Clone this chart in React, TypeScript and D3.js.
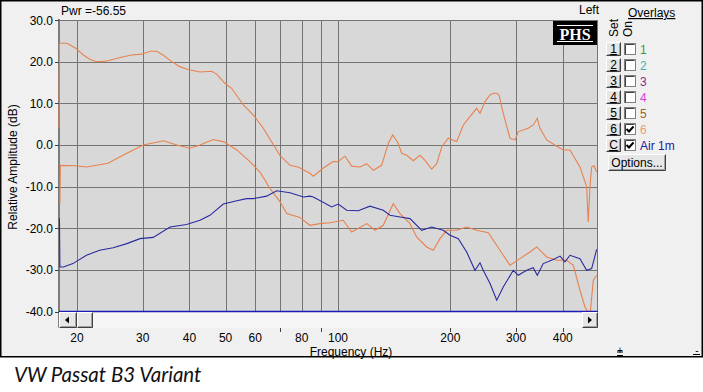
import React from "react";
import * as d3 from "d3";

// ---- axis definitions ----
const yTicks = [30, 20, 10, 0, -10, -20, -30, -40];
const xGrid = [20, 30, 40, 50, 60, 70, 80, 90, 100, 200, 300, 400];
const xLabels = [20, 30, 40, 50, 60, 80, 100, 200, 300, 400];
const xTickMarks = [70, 90, 200, 300, 400];

// ---- orange curve (high start) ----
const curveAFreq = [17.9, 17.95, 18.1, 18.8, 19.8, 20.8, 21.7, 22.4, 23.3, 24.2, 26.1, 28.0, 29.8, 31.4, 32.7, 34.0, 35.9, 37.7, 39.7, 42.7, 45.9, 47.3, 49.8, 51.9, 55.8, 59.3, 63.1, 69.9, 74.4, 78.2, 84.1, 85.9, 91.2, 97.0, 100, 104.4, 108.8, 114.5, 119.4, 124.3, 130.9, 136.4, 140.1, 145.0, 148.1, 152.8, 159.1, 165.8, 171.0, 178.2, 183.8, 189.6, 197.4, 207.9, 216.6, 225.7, 235.2, 240.1, 247.6, 255.4, 260.6, 266.1, 269.9, 277.1, 288.8, 297.9, 304.0, 323.3, 333.4, 341.8, 347.5, 362.2, 385.3, 401.3, 418.2, 444.7, 463.4, 468.0, 473.0, 477.9, 485.0, 492.9];
const curveADb = [4.0, 24.4, 24.4, 24.4, 23.3, 21.6, 20.5, 20.1, 20.0, 20.2, 21.0, 21.6, 21.8, 22.5, 22.5, 21.6, 20.0, 18.8, 18.1, 17.5, 17.7, 17.0, 14.8, 13.6, 9.6, 7.2, 4.0, -2.5, -4.9, -5.3, -6.8, -7.5, -5.6, -4.0, -4.0, -2.7, -5.1, -5.3, -4.5, -6.1, -4.9, 0.4, 2.4, 0.4, -2.0, -2.5, -3.8, -2.5, -3.7, -5.8, -4.5, -0.5, 1.6, 0.8, 4.8, 6.8, 8.8, 7.6, 10.4, 12.0, 12.4, 12.4, 12.0, 7.6, 1.6, 1.2, 3.2, 4.0, 4.8, 6.4, 4.0, 1.2, -0.3, -1.2, -1.2, -5.3, -10.0, -18.5, -10.0, -5.3, -5.0, -6.5];

// ---- orange curve (low start) ----
const curveBFreq = [18.0, 18.05, 19.8, 21.2, 24.2, 27.2, 30.1, 34.1, 37.0, 40.1, 42.7, 46.3, 49.3, 53.6, 58.1, 61.8, 65.8, 69.9, 72.9, 79.1, 84.1, 89.5, 95.2, 103.3, 108.8, 119.4, 125.6, 132.2, 140.6, 146.6, 155.9, 162.4, 172.8, 180.0, 187.6, 195.5, 207.9, 221.1, 235.2, 252.7, 271.5, 288.8, 307.2, 326.8, 340.5, 362.2, 385.3, 409.8, 426.8, 444.7, 458.6, 473.0, 482.8, 492.9];
const curveBDb = [-14.0, -4.9, -5.0, -5.3, -4.4, -2.0, 0.0, 1.0, 0.0, -0.8, 0.0, 1.3, 0.8, -1.2, -4.0, -6.5, -10.5, -13.6, -16.5, -17.4, -19.3, -18.9, -18.7, -18.1, -20.9, -18.9, -20.5, -19.3, -14.1, -16.5, -18.9, -22.1, -24.5, -25.3, -22.5, -20.5, -20.5, -19.7, -20.5, -21.1, -25.3, -28.9, -27.3, -25.7, -24.5, -26.9, -27.7, -27.7, -28.9, -34.9, -38.9, -41.0, -32.5, -31.3];

// ---- blue curve (Air 1m) ----
const airFreq = [17.95, 18.0, 18.4, 19.5, 21.2, 23.0, 25.0, 27.2, 29.5, 32.0, 35.5, 39.3, 42.7, 45.4, 49.3, 53.6, 56.9, 59.3, 64.4, 68.5, 74.4, 80.8, 84.1, 85.9, 96.2, 100.2, 105.5, 113.3, 121.8, 132.2, 137.8, 146.6, 155.9, 167.6, 178.2, 191.4, 199.5, 210.0, 221.1, 232.7, 240.1, 244.9, 255.4, 266.1, 277.1, 294.8, 304.0, 320.2, 333.4, 341.8, 354.6, 377.3, 393.2, 405.5, 418.2, 444.7, 463.4, 477.9, 492.9];
const airDb = [-17.6, -29.3, -29.3, -28.5, -26.5, -25.3, -24.7, -23.7, -22.5, -22.2, -19.7, -19.1, -18.1, -16.9, -14.2, -13.4, -12.9, -12.9, -12.3, -11.0, -11.5, -12.5, -12.3, -12.5, -14.9, -14.2, -15.7, -15.8, -14.7, -15.7, -16.9, -17.3, -17.7, -20.5, -19.7, -20.5, -21.7, -22.5, -25.7, -30.1, -28.3, -30.1, -33.3, -37.3, -34.1, -30.1, -31.3, -30.1, -29.5, -31.3, -28.5, -27.5, -26.7, -28.1, -26.5, -27.3, -30.1, -29.7, -25.1];

// ---- overlay panel ----
const overlaySets = ["1", "2", "3", "4", "5", "6", "C"];
const overlayLabels = ["1", "2", "3", "4", "5", "6", "Air 1m"];
const overlayChecked = [false, false, false, false, false, true, true];
const overlayColors = ["#3c963c", "#3cb4b4", "#8c2c8c", "#dc3cdc", "#a0602c", "#e8a070", "#2020a0"];

const UI_FONT = "'Liberation Sans', Arial, sans-serif";

function Button({ x, y, w, h, children }: { x: number; y: number; w: number; h: number; children?: React.ReactNode }) {
  return (
    <g>
      <rect x={x} y={y} width={w} height={h} fill="#e6e6e6" />
      <path d={`M${x + 0.5},${y + h - 0.5}V${y + 0.5}H${x + w - 0.5}`} fill="none" stroke="#ffffff" />
      <path d={`M${x + 0.5},${y + h - 0.5}H${x + w - 0.5}V${y + 0.5}`} fill="none" stroke="#404040" />
      <path d={`M${x + 1.5},${y + h - 1.5}H${x + w - 1.5}V${y + 1.5}`} fill="none" stroke="#a0a0a0" />
      {children}
    </g>
  );
}

export default function App() {
  const left = 59, right = 598, top = 20, bottom = 311.5;
  const x = d3.scaleLog().domain([17.9, 497]).range([left, right]);
  const y = d3.scaleLinear().domain([-40, 30]).range([bottom, top]);
  const line = d3
    .line<[number, number]>()
    .x((d) => x(d[0]))
    .y((d) => y(d[1]));

  const zip = (f: number[], v: number[]) => f.map((fi, i) => [fi, v[i]] as [number, number]);
  const pathA = line(zip(curveAFreq, curveADb)) || "";
  const pathB = line(zip(curveBFreq, curveBDb)) || "";
  const pathAir = line(zip(airFreq, airDb)) || "";

  const orange = "#e8824e";
  const blue = "#2a2aa0";

  return (
    <div style={{ position: "fixed", left: 0, top: 0 }}>
      <svg width={703} height={392} style={{ display: "block" }} fontFamily={UI_FONT}>
        <rect x={0} y={0} width={703} height={392} fill="#ffffff" />
        <rect x={0.75} y={0.75} width={701.5} height={356} fill="#f0f0f0" stroke="#000" strokeWidth={1.5} />

        {/* header texts */}
        <text x={61} y={15} fontSize={12} fill="#000">Pwr =-56.55</text>
        <text x={599} y={14} fontSize={12} fill="#000" textAnchor="end">Left</text>

        {/* plot area */}
        <defs>
          <clipPath id="plotClip">
            <rect x={left - 1} y={top} width={right - left + 1} height={bottom - top} />
          </clipPath>
        </defs>
        <rect x={left} y={top} width={right - left} height={bottom - top} fill="#d8d8d8" />
        {xGrid.map((f) => (
          <line key={"gx" + f} x1={Math.round(x(f)) + 0.5} x2={Math.round(x(f)) + 0.5} y1={top} y2={bottom} stroke="#747474" strokeWidth={1} />
        ))}
        {yTicks.map((v) => (
          <line key={"gy" + v} x1={left} x2={right} y1={Math.round(y(v)) + 0.5} y2={Math.round(y(v)) + 0.5} stroke="#747474" strokeWidth={1} />
        ))}
        <line x1={right - 0.5} x2={right - 0.5} y1={top} y2={bottom} stroke="#747474" />

        {/* PHS logo */}
        <rect x={553} y={21} width={44} height={24} fill="#000" />
        <text x={575} y={39.5} fontSize={16} fontWeight="bold" fill="#fff" textAnchor="middle" fontFamily="'Liberation Serif', 'DejaVu Serif', serif">PHS</text>
        <line x1={557} x2={593} y1={25.5} y2={25.5} stroke="#fff" strokeWidth={1} />
        <line x1={557} x2={593} y1={41.5} y2={41.5} stroke="#fff" strokeWidth={1} />

        {/* y axis */}
        <line x1={left} x2={left} y1={top - 1} y2={bottom + 16} stroke="#7c7c7c" strokeWidth={2} />

        {/* curves */}
        <g clipPath="url(#plotClip)" fill="none" strokeWidth={1.1}>
          <path d={pathB} stroke={orange} />
          <path d={pathA} stroke={orange} />
          <path d={pathAir} stroke={blue} />
        </g>

        {yTicks.map((v) => (
          <g key={"yt" + v}>
            <line x1={left - 4} x2={left} y1={Math.round(y(v)) + 0.5} y2={Math.round(y(v)) + 0.5} stroke="#404040" />
            <text x={53} y={y(v) + 4.5} fontSize={12} textAnchor="end" fill="#000">{v.toFixed(1)}</text>
          </g>
        ))}
        <text transform={`translate(17,${167}) rotate(-90)`} fontSize={12} textAnchor="middle" fill="#000">Relative Amplitude (dB)</text>

        {/* scrollbar */}
        <rect x={left} y={312} width={right - left} height={16} fill="#f6f6f6" />
        <line x1={left} x2={right} y1={311.5} y2={311.5} stroke="#1c1cb4" strokeWidth={1.5} />
        <Button x={59} y={312} w={18} h={16}>
          <path d="M65,320L69,316.5V323.5Z" fill="#000" />
        </Button>
        <Button x={77} y={312} w={16} h={16} />
        <Button x={582} y={312} w={16} h={16}>
          <path d="M592,320L588,316.5V323.5Z" fill="#000" />
        </Button>

        {/* x axis ticks and labels */}
        {xTickMarks.map((f) => (
          <line key={"xt" + f} x1={Math.round(x(f)) + 0.5} x2={Math.round(x(f)) + 0.5} y1={328} y2={332} stroke="#404040" />
        ))}
        {xLabels.map((f) => (
          <text key={"xl" + f} x={x(f)} y={342} fontSize={12} textAnchor="middle" fill="#000">{f}</text>
        ))}
        <text x={351} y={355.5} fontSize={12} textAnchor="middle" fill="#000">Frequency (Hz)</text>

        {/* overlay panel */}
        <text x={628} y={17} fontSize={12} fill="#000" textDecoration="underline">Overlays</text>
        <text transform="translate(618,37) rotate(-90)" fontSize={12} fill="#000">Set</text>
        <text transform="translate(632,37) rotate(-90)" fontSize={12} fill="#000">On</text>
        {overlaySets.map((s, i) => {
          const ry = 42 + i * 16;
          return (
            <g key={"ov" + i}>
              <Button x={606} y={ry} w={15} h={14}>
                <text x={613.5} y={ry + 11} fontSize={12} textAnchor="middle" fill="#000" textDecoration="underline">{s}</text>
              </Button>
              <rect x={624.5} y={ry + 1.5} width={11} height={11} fill="#fff" stroke="#808080" />
              <path d={`M${625.5},${ry + 12.5}V${ry + 2.5}H${634.5}`} fill="none" stroke="#404040" />
              {overlayChecked[i] && (
                <path d={`M${626.5},${ry + 7}L${629},${ry + 9.5}L${633.5},${ry + 4.5}`} fill="none" stroke="#000" strokeWidth={2} />
              )}
              <text x={640} y={ry + 11.5} fontSize={12} fill={overlayColors[i]}>{overlayLabels[i]}</text>
            </g>
          );
        })}
        <Button x={608} y={154} w={58} h={17}>
          <text x={637} y={167} fontSize={12} textAnchor="middle" fill="#000">Options...</text>
        </Button>

        {/* small corner buttons */}
        <text x={620} y={354} fontSize={10} textAnchor="middle" fill="#000" textDecoration="underline">+</text>
        <line x1={617} x2={623} y1={352} y2={352} stroke="#000" />
        <text x={697} y={354} fontSize={10} textAnchor="middle" fill="#000">-</text>
        <line x1={693} x2={700} y1={354.5} y2={354.5} stroke="#000" />

        {/* caption */}
        <text x={14} y={382} fontSize={20.5} fontStyle="italic" fontFamily="Lato, 'Open Sans', sans-serif" fill="#111">VW Passat B3 Variant</text>
      </svg>
    </div>
  );
}
